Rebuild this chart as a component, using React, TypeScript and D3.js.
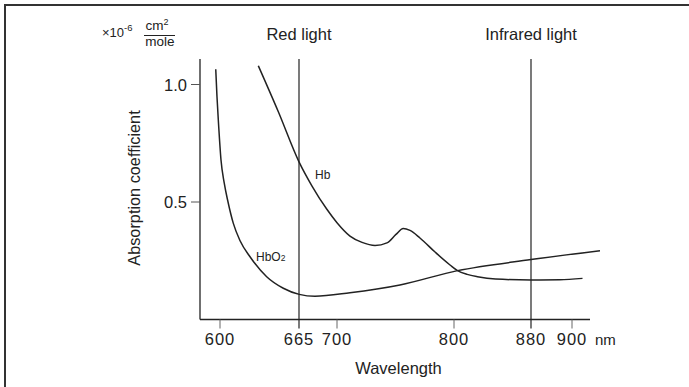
import React from "react";
import * as d3 from "d3";

// Tick wavelengths (nm) as printed on the axis
const xTicks = [600, 665, 700, 800, 880, 900];
const yTicks = [0.5, 1.0];
const markerLines = [665, 880];
const markerLabels = ["Red light", "Infrared light"];

// Hb (deoxyhemoglobin) absorption curve
const hbWavelength = [631.5, 648, 665, 677, 690.5, 700, 711.1, 721.4, 732.5, 742.7, 750.4, 756.6, 762.4, 770.9, 783.8, 796.6, 803.7, 813.7, 824.4, 843.2, 880, 894, 909];
const hbValue = [1.08, 0.884, 0.671, 0.568, 0.47, 0.412, 0.355, 0.328, 0.315, 0.326, 0.362, 0.387, 0.379, 0.347, 0.287, 0.232, 0.208, 0.192, 0.182, 0.172, 0.168, 0.169, 0.175];

// HbO2 (oxyhemoglobin) absorption curve
const hbo2Wavelength = [596.5, 597.5, 598.6, 600.8, 603.5, 606.6, 610.9, 616.5, 624.7, 638.4, 652.1, 665.2, 679.7, 711.1, 753.8, 803.7, 880, 924];
const hbo2Value = [1.065, 0.95, 0.85, 0.68, 0.58, 0.5, 0.41, 0.335, 0.267, 0.182, 0.133, 0.107, 0.099, 0.114, 0.147, 0.208, 0.255, 0.293];

const W = 689;
const H = 387;
const FONT = "'Liberation Sans', Arial, Helvetica, sans-serif";
const INK = "#222";

export default function App() {
  // schematic (non-uniform) wavelength axis as drawn in the figure
  const x = d3
    .scaleLinear()
    .domain([600, 665, 700, 800, 880, 900, 930])
    .range([220, 299, 337, 454, 531, 572, 607]);
  const y = d3.scaleLinear().domain([0, 1]).range([319.5, 84.5]);

  const axisLeft = 200;
  const axisBottom = y(0);
  const axisTop = 59;
  const axisRight = 590;

  const line = d3
    .line<[number, number]>()
    .x((d) => x(d[0]))
    .y((d) => y(d[1]))
    .curve(d3.curveMonotoneX);

  const hbPts = hbWavelength.map((w, i) => [w, hbValue[i]] as [number, number]);
  const hbo2Pts = hbo2Wavelength.map((w, i) => [w, hbo2Value[i]] as [number, number]);

  return (
    <svg
      width={W}
      height={H}
      style={{ position: "absolute", left: 0, top: 0, background: "#fff" }}
      fontFamily={FONT}
    >
      <rect x={0} y={0} width={W} height={H} fill="#fff" />
      <rect x={5} y={5} width={W + 20} height={H + 20} fill="none" stroke="#333" strokeWidth={2} />

      {/* unit header */}
      <text x={102} y={36.5} fontSize={13} fill={INK}>
        ×10
        <tspan fontSize={9.5} dy={-6}>-6</tspan>
      </text>
      <text x={157} y={30} fontSize={13.5} fill={INK} textAnchor="middle">
        cm
        <tspan fontSize={9} dy={-5}>2</tspan>
      </text>
      <line x1={144} x2={175} y1={35.5} y2={35.5} stroke={INK} strokeWidth={1} />
      <text x={160} y={45.5} fontSize={13.5} fill={INK} textAnchor="middle">
        mole
      </text>

      {/* marker lines */}
      {markerLines.map((m, i) => (
        <g key={m}>
          <line x1={x(m)} x2={x(m)} y1={axisTop} y2={axisBottom} stroke={INK} strokeWidth={1.2} />
          <text x={x(m)} y={40} fontSize={16.5} fill={INK} textAnchor="middle">
            {markerLabels[i]}
          </text>
        </g>
      ))}

      {/* axes */}
      <line x1={axisLeft} x2={axisLeft} y1={axisTop} y2={axisBottom} stroke={INK} strokeWidth={1.3} />
      <line x1={axisLeft} x2={axisRight} y1={axisBottom} y2={axisBottom} stroke={INK} strokeWidth={1.3} />

      {xTicks.map((t) => (
        <g key={t}>
          <line
            x1={x(t)}
            x2={x(t)}
            y1={axisBottom}
            y2={axisBottom + 9}
            stroke={markerLines.includes(t) ? INK : "#666"}
            strokeWidth={markerLines.includes(t) ? 1.2 : 1}
          />
          <text x={x(t)} y={345} fontSize={16.5} letterSpacing={1} fill={INK} textAnchor="middle">
            {t}
          </text>
        </g>
      ))}
      <text x={595} y={345} fontSize={15} fill={INK}>
        nm
      </text>

      {yTicks.map((t) => (
        <g key={t}>
          <line x1={axisLeft - 9} x2={axisLeft} y1={y(t)} y2={y(t)} stroke="#555" strokeWidth={1} />
          <text x={187} y={y(t) + 6} fontSize={16.5} fill={INK} textAnchor="end">
            {t.toFixed(1)}
          </text>
        </g>
      ))}

      <text x={398.5} y={373.5} fontSize={16.5} fill={INK} textAnchor="middle">
        Wavelength
      </text>
      <text
        transform={`translate(140,188) rotate(-90)`}
        fontSize={16.3}
        fill={INK}
        textAnchor="middle"
      >
        Absorption coefficient
      </text>

      {/* curves */}
      <path d={line(hbPts) || ""} fill="none" stroke={INK} strokeWidth={1.5} />
      <path d={line(hbo2Pts) || ""} fill="none" stroke={INK} strokeWidth={1.5} />

      <text x={315} y={178.5} fontSize={12} fill={INK}>
        Hb
      </text>
      <text x={256} y={261} fontSize={12} fill={INK}>
        HbO
        <tspan fontSize={8.5}>2</tspan>
      </text>
    </svg>
  );
}
